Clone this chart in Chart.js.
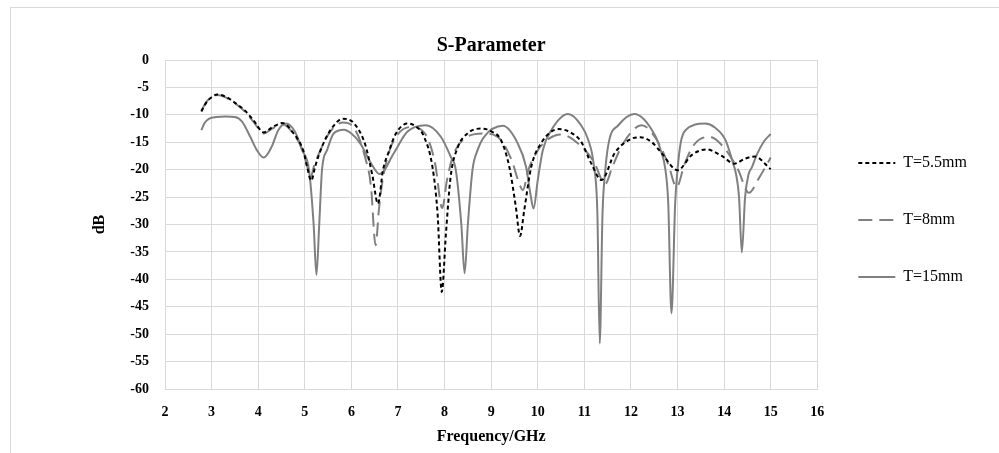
<!DOCTYPE html>
<html>
<head>
<meta charset="utf-8">
<script src="https://cdn.jsdelivr.net/npm/chart.js@4.4.0/dist/chart.umd.min.js"></script>
<style>
    body { margin: 0; background: #fff; }
    #wrap { position: relative; width: 999px; height: 453px; overflow: hidden; }
    #frame { position: absolute; left: 10px; top: 7px; width: 1200px; height: 600px; border: 1px solid #d9d9d9; }
    #chart { position: absolute; left: 0; top: 0; }
</style>
</head>
<body>
<div id="wrap">
    <div id="frame"></div>
    <canvas id="chart" width="999" height="453"></canvas>
</div>
<script>
// T=5.5mm
const freq55 = [2.78, 2.9, 3.0, 3.12, 3.3, 3.5, 3.7, 3.9, 4.12, 4.3, 4.52, 4.76, 4.97, 5.05, 5.14, 5.22, 5.37, 5.55, 5.82, 6.05, 6.3, 6.45, 6.57, 6.68, 6.8, 6.95, 7.2, 7.4, 7.56, 7.74, 7.85, 7.94, 8.03, 8.13, 8.28, 8.49, 8.78, 9.0, 9.21, 9.39, 9.53, 9.62, 9.71, 9.86, 10.07, 10.45, 10.7, 10.93, 11.15, 11.37, 11.65, 12.0, 12.2, 12.45, 12.66, 13.0, 13.31, 13.62, 13.95, 14.22, 14.45, 14.65, 15.0];
const db55 = [-9.4, -7.6, -6.8, -6.3, -6.7, -7.8, -9.1, -11.0, -13.2, -12.3, -11.5, -13.4, -16.6, -19.5, -22, -19.5, -15.8, -12.8, -10.7, -11.5, -15.5, -21, -26.2, -20, -16.8, -13.5, -11.6, -12.2, -14, -19.5, -28, -42.3, -31.6, -21.3, -16, -13.4, -12.5, -13, -14.6, -19.5, -26.8, -32.1, -27.4, -19.5, -15.2, -12.6, -13.2, -14.9, -18.9, -21.9, -17, -14.4, -14.1, -15, -17, -20.1, -17.3, -16.3, -17.5, -18.9, -18, -17.6, -19.9];

// T=8mm
const freq8 = [2.78, 2.9, 3.0, 3.12, 3.3, 3.5, 3.7, 3.9, 4.12, 4.3, 4.52, 4.76, 4.97, 5.05, 5.12, 5.2, 5.37, 5.55, 5.82, 6.05, 6.3, 6.42, 6.52, 6.59, 6.66, 6.8, 7.0, 7.31, 7.5, 7.65, 7.8, 7.95, 8.05, 8.18, 8.4, 8.85, 9.2, 9.45, 9.6, 9.68, 9.8, 10.0, 10.2, 10.5, 10.9, 11.2, 11.45, 11.6, 11.85, 12.23, 12.55, 12.8, 12.98, 13.15, 13.35, 13.68, 14.0, 14.3, 14.53, 14.75, 15.0];
const db8 = [-9.2, -7.5, -6.8, -6.4, -6.8, -7.9, -9.3, -11.3, -13.4, -12.5, -11.7, -13.5, -16.8, -19.3, -21.5, -19.3, -15.8, -13.0, -11.4, -12.3, -17.9, -23, -33.8, -27.4, -22.5, -17, -13.5, -12.2, -12.7, -14.5, -19, -27, -22, -17.5, -14.5, -13.4, -14.5, -18.5, -22.5, -23.7, -20, -16.5, -14.6, -13.6, -15.5, -18.5, -22.6, -19.5, -15, -11.9, -14.5, -19, -23.2, -19, -15.5, -14, -16, -20, -24.2, -21.5, -17.8];

// T=15mm
const freq15 = [2.78, 2.85, 2.95, 3.1, 3.3, 3.5, 3.65, 3.83, 3.97, 4.12, 4.29, 4.43, 4.6, 4.79, 4.94, 5.09, 5.19, 5.25, 5.31, 5.37, 5.48, 5.62, 5.84, 6.0, 6.19, 6.4, 6.61, 6.91, 7.2, 7.6, 7.92, 8.13, 8.24, 8.36, 8.43, 8.5, 8.6, 8.71, 8.85, 9.25, 9.57, 9.75, 9.84, 9.91, 10.0, 10.11, 10.29, 10.65, 10.93, 11.08, 11.2, 11.28, 11.33, 11.39, 11.45, 11.53, 11.73, 12.07, 12.52, 12.64, 12.74, 12.8, 12.87, 12.95, 13.0, 13.07, 13.17, 13.59, 13.8, 14.03, 14.17, 14.26, 14.32, 14.38, 14.45, 14.52, 14.6, 14.7, 14.85, 15.0];
const db15 = [-12.8, -11.5, -10.7, -10.4, -10.3, -10.4, -11.2, -14.0, -16.4, -17.8, -15.8, -12.8, -11.6, -13.1, -16.4, -20, -30, -39.2, -30, -20, -16.4, -13.4, -12.7, -13.4, -15.2, -18.5, -20.8, -17, -13.1, -11.9, -14, -17.6, -20, -30, -38.9, -30, -20, -16.4, -14, -12, -15.2, -19.5, -24.3, -27.1, -21.9, -16.4, -12.8, -9.85, -11.9, -14.5, -19, -28, -51.7, -28, -20, -14.8, -11.9, -9.85, -13.8, -16.5, -20, -26, -46.2, -26, -20, -15, -12.8, -11.6, -12.3, -14.6, -18.2, -21, -25, -35.1, -25, -21, -19.5, -17.3, -14.9, -13.5];

const seriesNames = ["T=5.5mm", "T=8mm", "T=15mm"];

const serif = "'Liberation Serif', 'Times New Roman', serif";

function toPoints(xs, ys) {
    return xs.map((x, i) => ({ x: x, y: ys[i] }));
}

const ctx = document.getElementById("chart").getContext("2d");

new Chart(ctx, {
    type: "line",
    data: {
        datasets: [
            {
                label: seriesNames[0],
                data: toPoints(freq55, db55),
                borderColor: "#000000",
                backgroundColor: "#000000",
                borderWidth: 2,
                borderDash: [4, 3]
            },
            {
                label: seriesNames[1],
                data: toPoints(freq8, db8),
                borderColor: "#808080",
                backgroundColor: "#808080",
                borderWidth: 2,
                borderDash: [14, 7]
            },
            {
                label: seriesNames[2],
                data: toPoints(freq15, db15),
                borderColor: "#808080",
                backgroundColor: "#808080",
                borderWidth: 2,
                borderDash: []
            }
        ]
    },
    options: {
        responsive: false,
        animation: false,
        elements: {
            point: { radius: 0 },
            line: { cubicInterpolationMode: "monotone" }
        },
        layout: {
            padding: { left: 80, right: 22, top: 0, bottom: 13 }
        },
        plugins: {
            title: {
                display: true,
                text: "S-Parameter",
                fullSize: false,
                color: "#000",
                font: { family: serif, size: 20, weight: "bold" },
                padding: { top: 34, bottom: 2 }
            },
            legend: {
                display: true,
                position: "right",
                labels: {
                    usePointStyle: true,
                    pointStyle: "line",
                    pointStyleWidth: 37,
                    padding: 41,
                    color: "#000",
                    font: { family: serif, size: 16 },
                    generateLabels: (chart) => {
                        const items = Chart.defaults.plugins.legend.labels.generateLabels(chart);
                        items.forEach(item => {
                            const ds = chart.data.datasets[item.datasetIndex];
                            item.lineDash = ds.borderDash;
                            item.strokeStyle = ds.borderColor;
                            item.lineWidth = ds.borderWidth;
                        });
                        return items;
                    }
                }
            },
            tooltip: { enabled: false }
        },
        scales: {
            x: {
                type: "linear",
                min: 2,
                max: 16,
                afterFit: (scale) => { scale.height = 51; },
                grid: { color: "#d9d9d9", drawTicks: false },
                border: { color: "#d9d9d9" },
                ticks: {
                    stepSize: 1,
                    padding: 15,
                    color: "#000",
                    font: { family: serif, size: 14, weight: "bold" }
                },
                title: {
                    display: true,
                    text: "Frequency/GHz",
                    color: "#000",
                    font: { family: serif, size: 16, weight: "bold" },
                    padding: { top: 0, bottom: -6 }
                }
            },
            y: {
                min: -60,
                max: 0,
                afterFit: (scale) => { scale.width = 85; },
                grid: { color: "#d9d9d9", drawTicks: false },
                border: { color: "#d9d9d9" },
                ticks: {
                    stepSize: 5,
                    padding: 16,
                    color: "#000",
                    font: { family: serif, size: 14, weight: "bold" }
                },
                title: {
                    display: true,
                    text: "dB",
                    color: "#000",
                    font: { family: serif, size: 16, weight: "bold" },
                    padding: { top: 10, bottom: 0 }
                }
            }
        }
    }
});
</script>
</body>
</html>
